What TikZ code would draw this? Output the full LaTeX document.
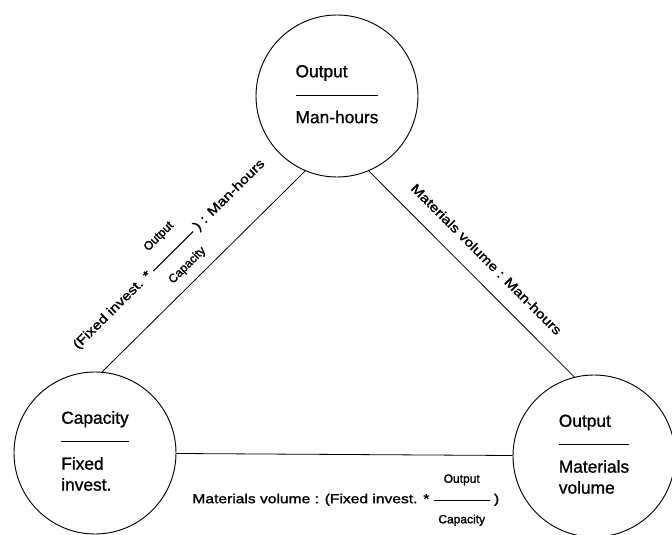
\documentclass[tikz,border=0pt]{standalone}
\usepackage{fontspec}
\setmainfont{Liberation Sans}
\newfontfamily\edgefont[FakeStretch=1.2,FakeBold=1.5]{Liberation Sans}
\newfontfamily\ringfont[FakeBold=1]{Liberation Sans}
\newfontfamily\fracfont[FakeBold=1.5]{Liberation Sans}

% ratio written inside a circle: numerator, rule, denominator lines
\newcommand\ringtext[2]{{\ringfont\fontsize{13}{15.75}\selectfont
  \setlength\arrayrulewidth{0.9pt}%
  \begin{tabular}{@{}l@{}}#1\\[8.3pt]\hline\rule{0pt}{20.5pt}#2\end{tabular}}}

% small stacked fraction used inside the edge labels
\newcommand\fracpart[2]{{\setlength\arrayrulewidth{0.8pt}%
  \begin{tabular}[c]{@{}c@{}}\fracfont\fontsize{9}{10.8}\selectfont #1\\[9pt]\hline
  \rule{0pt}{17pt}\makebox[42pt]{\fracfont\fontsize{9}{10.8}\selectfont #2}\end{tabular}}}

\begin{document}
\begin{tikzpicture}[x=0.75pt,y=-0.75pt,
  ring/.style={circle,draw,line width=0.7pt,minimum size=121.5pt,inner sep=0pt},
  link/.style={line width=0.6pt},
  lab/.style={font=\edgefont\fontsize{9.75}{12}\selectfont,inner sep=0pt}]
\path[fill=white,use as bounding box] (0,0) rectangle (672,535);

\node[ring] (top) at (337,96)  {\ringtext{Output}{Man-hours}};
\node[ring] (cap) at (95,453)  {\ringtext{Capacity}{Fixed\\invest.}};
\node[ring] (mat) at (594,456) {\ringtext{Output}{Materials\\volume}};

\draw[link] (cap.85) -- node[lab,sloped,pos=0.456,yshift=27pt] (lfix)
  {(Fixed invest. * \fracpart{Output}{Capacity} ) : Man-hours} (top.-113);
\draw[link] (top.-67) -- node[lab,sloped,pos=0.5,yshift=15.75pt] (lmat)
  {Materials volume : Man-hours} (mat.104.5);
\draw[link] (cap) -- node[lab,pos=0.504,yshift=-34pt] (lbot)
  {Materials volume : (Fixed invest. * \fracpart{Output}{Capacity} )} (mat);
\end{tikzpicture}
\end{document}
